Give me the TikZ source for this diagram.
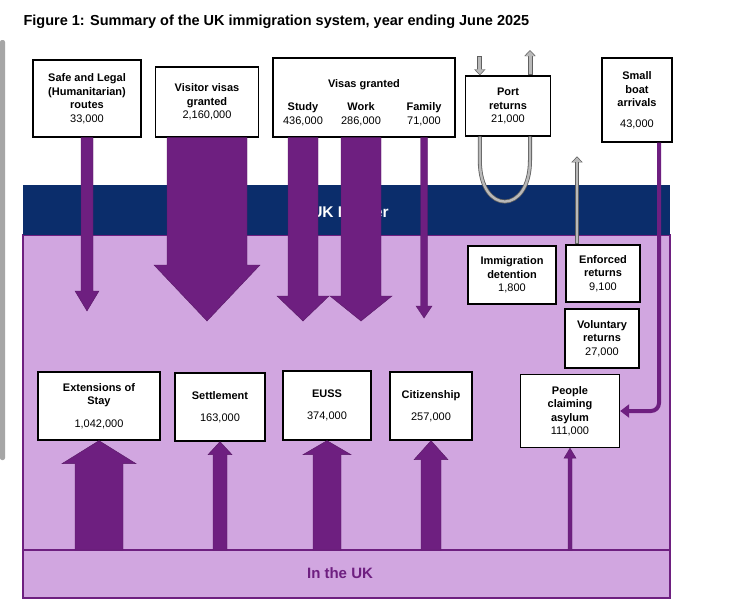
\documentclass[tikz,border=0pt]{standalone}
\usepackage{fontspec}
\setmainfont{Liberation Sans}
\usetikzlibrary{arrows.meta,calc}
\definecolor{navy}{HTML}{0B2D6B}
\definecolor{lilac}{HTML}{D1A6E0}
\definecolor{plum}{HTML}{6E1F80}
\tikzset{
  box/.style={draw, fill=white, line width=1.3pt, align=center, inner sep=1pt,
    font=\fontsize{11}{13.5}\selectfont},
  arrowfill/.style={fill=plum, draw=plum!80!black, line width=0.4pt},
  greytube/.style={line width=4pt, draw=gray!75!black},
}
% arrow pointing down the page: start, tip, shaft half width, head half width, head length
\newcommand\flowdown[5]{%
  \filldraw[arrowfill] ($(#1)+(-#3,0)$) -- ($(#2)+(-#3,-#5)$) -- ($(#2)+(-#4,-#5)$)
    -- (#2) -- ($(#2)+(#4,-#5)$) -- ($(#2)+(#3,-#5)$) -- ($(#1)+(#3,0)$) -- cycle;}
% arrow pointing up the page
\newcommand\flowup[5]{%
  \filldraw[arrowfill] ($(#1)+(-#3,0)$) -- ($(#2)+(-#3,#5)$) -- ($(#2)+(-#4,#5)$)
    -- (#2) -- ($(#2)+(#4,#5)$) -- ($(#2)+(#3,#5)$) -- ($(#1)+(#3,0)$) -- cycle;}
\begin{document}
\begin{tikzpicture}[x=1pt, y=-1pt]
  \useasboundingbox[fill=white] (0,0) rectangle (743,600);
  \fill[gray!70, rounded corners=2pt] (0,40) rectangle (5,460);
  \node[anchor=west, font=\fontsize{14.5}{16}\bfseries\selectfont] (title) at (20,22)
    {Figure 1: Summary of the UK immigration system, year ending June 2025};

  % background
  \filldraw[fill=lilac, draw=plum, line width=1.5pt] (23,235) rectangle (670,598);
  \draw[plum, line width=1.5pt] (23,550) -- (670,550);
  \fill[navy] (23,185) rectangle (670,235);
  \node[text=white, font=\fontsize{15.5}{17}\bfseries\selectfont] (border) at (350,212) {UK Border};
  \node[text=plum, font=\fontsize{15}{17}\bfseries\selectfont] (inuk) at (340,573) {In the UK};

  % boxes at the top
  \node[box, minimum width=108pt, minimum height=77pt] (safe) at (87,98.5)
    {\textbf{Safe and Legal}\\\textbf{(Humanitarian)}\\\textbf{routes}\\33,000};
  \node[box, minimum width=103pt, minimum height=70pt] (visitor) at (207,102)
    {\textbf{Visitor visas}\\\textbf{granted}\\2,160,000};
  \node[box, minimum width=182pt, minimum height=79pt] (visas) at (364,97.5) {};
  \node[font=\fontsize{11}{13.5}\bfseries\selectfont] (visashead) at (364,85) {Visas granted};
  \node[align=center, font=\fontsize{11}{13.5}\selectfont] (study) at (303,114) {\textbf{Study}\\436,000};
  \node[align=center, font=\fontsize{11}{13.5}\selectfont] (work) at (361,114) {\textbf{Work}\\286,000};
  \node[align=center, font=\fontsize{11}{13.5}\selectfont] (family) at (424,114) {\textbf{Family}\\71,000};
  \node[box, minimum width=85pt, minimum height=60pt] (port) at (508,106)
    {\textbf{Port}\\\textbf{returns}\\21,000};
  \node[box, minimum width=70pt, minimum height=84pt] (boat) at (637,100)
    {\textbf{Small}\\\textbf{boat}\\\textbf{arrivals}\\[7pt]43,000};

  % flows across the border
  \coordinate (safelvl) at (0,311);
  \coordinate (downlvl) at (0,321);
  \coordinate (familylvl) at (0,318);
  \coordinate (portright) at (530,0);
  \flowdown{safe.south}{safe.south |- safelvl}{6}{12}{20}
  \flowdown{visitor.south}{visitor.south |- downlvl}{40}{53}{56}
  \flowdown{study.center |- visas.south}{study.center |- downlvl}{15}{26}{25}
  \flowdown{work.center |- visas.south}{work.center |- downlvl}{20}{31}{25}
  \flowdown{family.center |- visas.south}{family.center |- familylvl}{3.5}{8}{12}

  % port returns loop
  \draw[greytube] ($(port.south west)+(15,0)$) -- ++(0,24)
    .. controls ++(0,55) and (530,215) .. (530,160) -- (portright |- port.south);
  \draw[line width=2.4pt, gray!55] ($(port.south west)+(15,0)$) -- ++(0,24)
    .. controls ++(0,55) and (530,215) .. (530,160) -- (portright |- port.south);
  \draw[-{Triangle[width=11pt,length=6pt]}, line width=5pt, gray!75!black]
    ($(port.north west)+(15,-19)$) -- ($(port.north west)+(15,0)$);
  \draw[-{Triangle[width=9pt,length=5pt]}, line width=3pt, gray!55]
    ($(port.north west)+(15,-18)$) -- ($(port.north west)+(15,-1)$);
  \draw[-{Triangle[width=11pt,length=6pt]}, line width=5pt, gray!75!black]
    (portright |- port.north) -- (530,50);
  \draw[-{Triangle[width=9pt,length=5pt]}, line width=3pt, gray!55]
    ($(portright |- port.north)+(0,-1)$) -- (530,51);

  % boxes in the UK
  \node[box, minimum width=88pt, minimum height=58pt] (detention) at (512,275)
    {\textbf{Immigration}\\\textbf{detention}\\1,800};
  \node[box, minimum width=74pt, minimum height=57pt] (enforced) at (603,273.5)
    {\textbf{Enforced}\\\textbf{returns}\\9,100};
  \node[box, minimum width=74pt, minimum height=59pt] (voluntary) at (602,338.5)
    {\textbf{Voluntary}\\\textbf{returns}\\27,000};
  \node[box, minimum width=99pt, minimum height=73pt] (asylum) at (570,411)
    {\textbf{People}\\\textbf{claiming}\\\textbf{asylum}\\111,000};
  \node[box, minimum width=122pt, minimum height=68pt] (ext) at (99,406)
    {\textbf{Extensions of}\\\textbf{Stay}\\[9pt]1,042,000};
  \node[box, minimum width=90pt, minimum height=68pt] (settle) at (220,407)
    {\textbf{Settlement}\\[9pt]163,000};
  \node[box, minimum width=88pt, minimum height=69pt] (euss) at (327,405.5)
    {\textbf{EUSS}\\[9pt]374,000};
  \node[box, minimum width=82pt, minimum height=68pt] (citizen) at (431,406)
    {\textbf{Citizenship}\\[9pt]257,000};

  % enforced returns leave the UK
  \draw[greytube, -{Triangle[width=11pt,length=6pt]}]
    ($(enforced.north)+(-26,0)$) -- ($(enforced.north)+(-26,-88)$);
  \draw[line width=2.4pt, gray!55, -{Triangle[width=8pt,length=4.5pt]}]
    ($(enforced.north)+(-26,-1)$) -- ($(enforced.north)+(-26,-87)$);

  % small boat arrivals to asylum
  \coordinate (boatline) at ($(boat.south)+(22,0)$);
  \draw[plum, line width=4pt, rounded corners=8pt, -{Triangle[width=13pt,length=9pt]}]
    (boatline) -- (boatline |- asylum.east) -- (asylum.east);

  % flows from within the UK
  \coordinate (uklvl) at (0,550);
  \flowup{ext.south |- uklvl}{ext.south}{24}{37}{23}
  \flowup{settle.south |- uklvl}{settle.south}{7}{12}{13}
  \flowup{euss.south |- uklvl}{euss.south}{14}{24}{14}
  \flowup{citizen.south |- uklvl}{citizen.south}{10}{17}{19}
  \flowup{asylum.south |- uklvl}{asylum.south}{2}{6}{10}
\end{tikzpicture}
\end{document}
